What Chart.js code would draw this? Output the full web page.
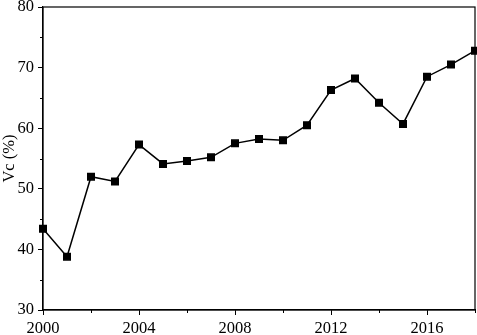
<!DOCTYPE html>
<html>
<head>
<meta charset="utf-8">
<script src="https://cdn.jsdelivr.net/npm/chart.js@4"></script>
<style>
  html, body { margin: 0; padding: 0; background: #fff; }
  #wrap { width: 477px; height: 335px; }
</style>
</head>
<body>
<div id="wrap"><canvas id="chart" width="477" height="335"></canvas></div>
<script>
// Data
const years = [2000, 2001, 2002, 2003, 2004, 2005, 2006, 2007, 2008, 2009,
               2010, 2011, 2012, 2013, 2014, 2015, 2016, 2017, 2018];
const vcValues = [43.4, 38.8, 52.0, 51.2, 57.3, 54.1, 54.6, 55.2, 57.5, 58.2,
                  58.0, 60.5, 66.3, 68.2, 64.2, 60.7, 68.5, 70.5, 72.8];
const xTicks = [2000, 2004, 2008, 2012, 2016];
const yTicks = [30, 40, 50, 60, 70, 80];
const xMinor = [2002, 2006, 2010, 2014, 2018];
const yMinor = [35, 45, 55, 65, 75];

const serif = '"Liberation Serif", "Times New Roman", serif';

// markers sit on the frame edge, so don't let them shrink the plot area
Chart.registry.getController('line').prototype.getMaxOverflow = () => 0;

// frame around the plot + short minor ticks
const framePlugin = {
    id: 'frame',
    afterDraw(chart) {
        const { ctx, chartArea: a, scales } = chart;
        ctx.save();
        ctx.strokeStyle = '#000';
        ctx.lineWidth = 1.2;
        ctx.strokeRect(a.left, a.top, a.right - a.left, a.bottom - a.top);
        ctx.beginPath();
        xMinor.forEach(v => {
            const px = Math.round(scales.x.getPixelForValue(v)) + 0.5;
            ctx.moveTo(px, a.bottom);
            ctx.lineTo(px, a.bottom + 3);
        });
        yMinor.forEach(v => {
            const py = Math.round(scales.y.getPixelForValue(v)) + 0.5;
            ctx.moveTo(a.left, py);
            ctx.lineTo(a.left - 3, py);
        });
        ctx.lineWidth = 1;
        ctx.stroke();
        ctx.restore();
    }
};

new Chart(document.getElementById('chart'), {
    type: 'line',
    data: {
        datasets: [{
            data: years.map((y, i) => ({ x: y, y: vcValues[i] })),
            borderColor: '#000',
            backgroundColor: '#000',
            borderWidth: 1.5,
            pointStyle: 'rect',
            pointRadius: 4.6,
            pointHoverRadius: 4.6,
            tension: 0,
            clip: false
        }]
    },
    options: {
        responsive: false,
        animation: false,
        layout: { padding: { top: 7, right: 2, left: 0, bottom: 0 } },
        plugins: { legend: { display: false }, tooltip: { enabled: false } },
        scales: {
            x: {
                type: 'linear',
                min: 2000,
                max: 2018,
                afterBuildTicks: s => { s.ticks = xTicks.map(v => ({ value: v })); },
                afterFit: s => { s.height = 25; s.paddingLeft = 0; s.paddingRight = 0; },
                border: { color: '#000', width: 1.2 },
                grid: { drawOnChartArea: false, tickLength: 5, tickColor: '#000' },
                ticks: {
                    color: '#000',
                    padding: 4,
                    maxRotation: 0,
                    font: { family: serif, size: 16.5 },
                    callback: v => String(v)
                }
            },
            y: {
                min: 30,
                max: 80,
                afterBuildTicks: s => { s.ticks = yTicks.map(v => ({ value: v })); },
                afterFit: s => { s.width = 43; s.paddingTop = 0; s.paddingBottom = 0; },
                border: { color: '#000', width: 1.2 },
                grid: { drawOnChartArea: false, tickLength: 5, tickColor: '#000' },
                title: {
                    display: true,
                    text: 'Vc (%)',
                    color: '#000',
                    padding: 0,
                    font: { family: serif, size: 16.5 }
                },
                ticks: {
                    color: '#000',
                    padding: 4,
                    font: { family: serif, size: 16.5 }
                }
            }
        }
    },
    plugins: [framePlugin]
});
</script>
</body>
</html>
